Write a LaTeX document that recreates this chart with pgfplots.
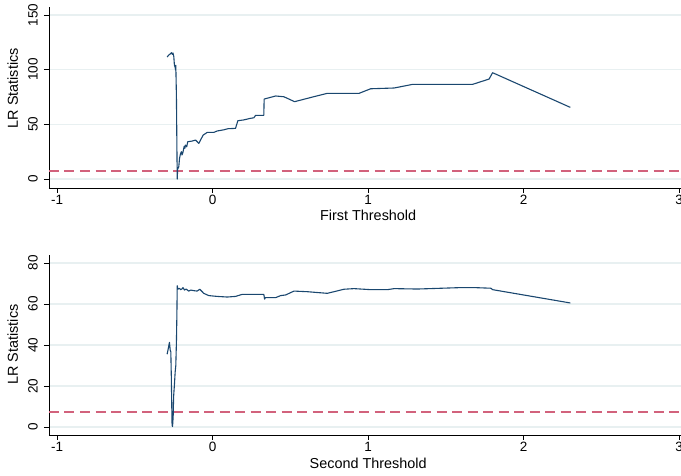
\documentclass[border=0pt]{standalone}
\usepackage{fontspec}
\setmainfont{Liberation Sans}
\usepackage{pgfplots}
\pgfplotsset{compat=1.18}
\definecolor{stnavy}{RGB}{26,71,111}
\definecolor{stred}{RGB}{210,98,124}
\definecolor{stgrid}{RGB}{232,240,241}
\pgfplotstableread{
x y
-0.292 111.5
-0.280 113.5
-0.270 114.5
-0.264 115.5
-0.258 114.0
-0.254 115.2
-0.249 112.0
-0.245 104.2
-0.240 102.0
-0.238 99.6
-0.236 104.0
-0.234 90.0
-0.232 75.0
-0.230 45.0
-0.228 15.0
-0.227 0.0
-0.224 9.0
-0.217 11.2
-0.212 18.9
-0.206 23.0
-0.200 25.0
-0.196 22.0
-0.190 24.5
-0.182 30.0
-0.178 28.0
-0.174 31.0
-0.166 29.5
-0.159 34.1
-0.131 34.7
-0.109 35.6
-0.088 32.6
-0.077 35.6
-0.060 40.2
-0.034 42.6
0.008 42.6
0.030 43.9
0.073 45.0
0.100 46.0
0.148 46.3
0.163 53.3
0.200 54.0
0.245 55.5
0.266 56.0
0.277 58.2
0.330 58.2
0.332 73.1
0.406 75.9
0.459 75.2
0.528 70.7
0.631 74.5
0.738 78.3
0.942 78.3
1.017 82.5
1.168 83.2
1.286 86.5
1.672 86.5
1.779 91.4
1.801 97.2
2.301 65.5
}\first
\pgfplotstableread{
x y
-0.292 35.5
-0.285 38.0
-0.277 41.3
-0.272 37.6
-0.268 36.7
-0.265 25.0
-0.262 10.0
-0.260 1.0
-0.257 0.2
-0.253 5.0
-0.250 15.0
-0.245 20.5
-0.240 27.0
-0.236 30.0
-0.232 41.6
-0.229 55.0
-0.227 68.9
-0.222 67.3
-0.212 67.6
-0.205 67.0
-0.197 67.3
-0.190 68.0
-0.180 66.8
-0.170 67.3
-0.153 66.3
-0.140 66.8
-0.120 66.5
-0.099 66.3
-0.082 67.2
-0.056 65.2
-0.024 64.1
0.030 63.7
0.095 63.4
0.148 63.7
0.191 64.7
0.330 64.7
0.335 62.4
0.340 63.1
0.406 63.1
0.438 64.1
0.470 64.4
0.524 66.3
0.610 66.0
0.738 65.2
0.846 67.2
0.910 67.5
1.017 67.0
1.125 67.0
1.168 67.5
1.318 67.3
1.597 68.0
1.683 68.0
1.790 67.7
1.801 67.0
2.301 60.5
}\second
\pgfplotsset{
  stata/.style={
    axis lines=left,
    axis line style={-, black, line width=0.8pt},
    tick align=outside,
    major tick length=5pt,
    tick style={black, line width=0.8pt},
    xtick={-1,0,1,2,3},
    xmin=-1.0515, xmax=3.013,
    x=155.5pt,
    ymajorgrids,
    grid style={stgrid, line width=1.2pt},
    tick label style={font=\fontsize{13.5}{15}\selectfont},
    /pgf/number format/assume math mode=true,
    yticklabel style={rotate=90, anchor=south, inner sep=0pt},
    xticklabel style={anchor=north, inner sep=0pt},
    yticklabel shift=6pt,
    xticklabel shift=2pt,
    label style={font=\fontsize{14.4}{16}\selectfont},
    clip=false,
  },
  lrline/.style={stnavy, line width=1.1pt, line join=round},
  critline/.style={stred, line width=1.2pt, dash pattern=on 10pt off 5.5pt},
}
\begin{document}
\begin{tikzpicture}
\useasboundingbox (0,0) rectangle (681pt,476pt);
\begin{axis}[stata,
  at={(49pt,288pt)}, anchor=south west,
  y=1.094pt, ymin=-8.2, ymax=157,
  ytick={0,50,100,150},
  xlabel={First Threshold}, ylabel={LR Statistics},
  xlabel style={at={([yshift=-33pt]axis description cs:0.505,0)}, anchor=base, inner sep=0pt},
  ylabel style={at={([xshift=-31pt]axis description cs:0,0.552)}, anchor=base, inner sep=0pt},
]
\addplot[critline] coordinates {(-1.0515,7.35) (3.013,7.35)};
\addplot[lrline] table[x=x,y=y] {\first};
\end{axis}
\begin{axis}[stata,
  at={(49pt,41pt)}, anchor=south west,
  y=2.05pt, ymin=-3.9, ymax=83.9,
  ytick={0,20,40,60,80},
  xlabel={Second Threshold}, ylabel={LR Statistics},
  xlabel style={at={([yshift=-34pt]axis description cs:0.505,0)}, anchor=base, inner sep=0pt},
  ylabel style={at={([xshift=-31pt]axis description cs:0,0.503)}, anchor=base, inner sep=0pt},
]
\addplot[critline] coordinates {(-1.0515,7.35) (3.013,7.35)};
\addplot[lrline] table[x=x,y=y] {\second};
\end{axis}
\end{tikzpicture}
\end{document}
